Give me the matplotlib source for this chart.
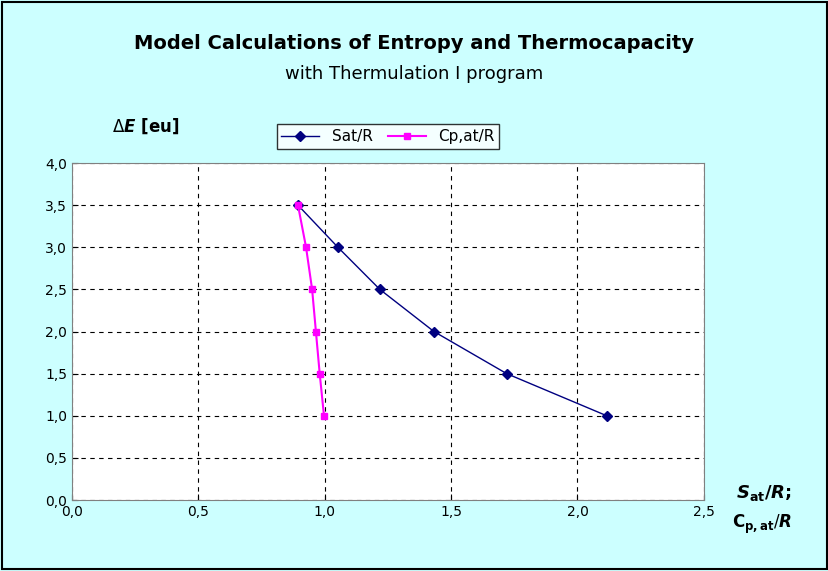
import matplotlib
matplotlib.use("Agg")
import matplotlib.pyplot as plt

dE = [3.5, 3.0, 2.5, 2.0, 1.5, 1.0]
sat_R = [0.894, 1.052, 1.218, 1.432, 1.72, 2.116]
cp_R = [0.894, 0.926, 0.95, 0.965, 0.98, 0.997]
xticks = [0.0, 0.5, 1.0, 1.5, 2.0, 2.5]
yticks = [0.0, 0.5, 1.0, 1.5, 2.0, 2.5, 3.0, 3.5, 4.0]

fig = plt.figure(figsize=(8.29, 5.71), dpi=100, facecolor="#CCFFFF")
ax = fig.add_axes([0.0869, 0.1243, 0.849 - 0.0869, 0.7145 - 0.1243])
ax.plot(sat_R, dE, color="#000080", marker="D", markersize=5, lw=1, label="Sat/R")
ax.plot(cp_R, dE, color="#FF00FF", marker="s", markersize=5, lw=1.5, label="Cp,at/R")
ax.set_xlim(0, 2.5)
ax.set_ylim(0, 4.0)
ax.set_xticks(xticks)
ax.set_yticks(yticks)
ax.set_xticklabels([f"{v:.1f}".replace(".", ",") for v in xticks], fontsize=10)
ax.set_yticklabels([f"{v:.1f}".replace(".", ",") for v in yticks], fontsize=10)
ax.grid(True, color="black", linestyle=(0, (4, 4)), lw=0.8)
ax.tick_params(direction="in", length=4)
for s in ax.spines.values():
    s.set_color("#808080")
leg = ax.legend(loc="lower center", bbox_to_anchor=(0.5, 1.02), ncol=2, frameon=True,
                fancybox=False, edgecolor="black", fontsize=11, handlelength=2.5,
                borderpad=0.3, columnspacing=1.0)
fig.text(0.5, 0.915, "Model Calculations of Entropy and Thermocapacity", ha="center",
         fontsize=14, fontweight="bold")
fig.text(0.5, 0.862, "with Thermulation I program", ha="center", fontsize=13)
fig.text(0.135, 0.77, r"$\Delta\boldsymbol{E}$ [eu]", fontsize=12, fontweight="bold")
fig.text(0.888, 0.128, r"$\boldsymbol{S}_{\mathbf{at}}\boldsymbol{/R}$;", fontsize=13, fontweight="bold")
fig.text(0.883, 0.075, r"$\mathbf{C_{p,at}}/\boldsymbol{R}$", fontsize=12, fontweight="bold")
fig.patches.append(plt.Rectangle((0.003, 0.004), 0.994, 0.992, transform=fig.transFigure,
                                 fill=False, edgecolor="black", lw=1.5))
fig.savefig("out.png", dpi=100, facecolor=fig.get_facecolor())
